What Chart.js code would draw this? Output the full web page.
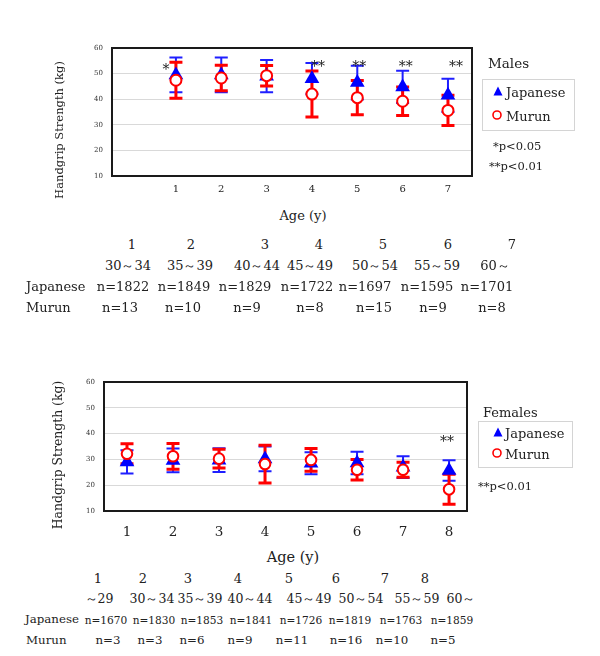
<!DOCTYPE html>
<html><head><meta charset="utf-8">
<script src="https://cdn.jsdelivr.net/npm/chart.js@4.4.1/dist/chart.umd.min.js"></script>
<style>
body{margin:0;width:600px;height:656px;position:relative;background:#fff;overflow:hidden;font-family:'DejaVu Serif',serif;color:#222}
canvas{position:absolute;left:0}
.t{position:absolute;white-space:nowrap;line-height:1;transform:translate(-50%,-50%)}
.l{position:absolute;white-space:nowrap;line-height:1;transform:translate(0,-50%)}
.r{position:absolute;white-space:nowrap;line-height:1;transform:translate(-50%,-50%) rotate(-90deg)}
.box{position:absolute;border:1px solid #d4d4d4}
</style></head><body>
<canvas id="male" width="600" height="205" style="top:0"></canvas>
<canvas id="female" width="600" height="205" style="top:340px"></canvas>
<script>
// ---------- data: males ----------
const maleGroups = ['1','2','3','4','5','6','7'];
const maleAgeRanges = ['30～34','35～39','40～44','45～49','50～54','55～59','60～'];
const maleNJapanese = [1822,1849,1829,1722,1697,1595,1701];
const maleNMurun = [13,10,9,8,15,9,8];
const maleJapaneseMean = [49.5,49.5,49.0,48.0,46.5,44.8,41.5];
const maleJapaneseSD   = [6.8,6.8,6.3,6.1,6.6,6.3,6.5];
const maleMurunMean = [47.4,48.3,49.2,42.0,40.6,39.2,35.6];
const maleMurunSD   = [7.0,5.0,4.0,9.0,6.7,5.6,5.9];
const maleSig = ['*','','','**','**','**','**'];
// ---------- data: females ----------
const femaleGroups = ['1','2','3','4','5','6','7','8'];
const femaleAgeRanges = ['～29','30～34','35～39','40～44','45～49','50～54','55～59','60～'];
const femaleNJapanese = [1670,1830,1853,1841,1726,1819,1763,1859];
const femaleNMurun = [3,3,6,9,11,16,10,5];
const femaleJapaneseMean = [29.0,29.6,29.7,30.2,28.5,28.6,27.0,25.7];
const femaleJapaneseSD   = [4.5,4.6,4.6,4.8,4.3,4.4,4.2,4.0];
const femaleMurunMean = [32.2,31.2,30.3,28.2,29.8,26.0,26.0,18.4];
const femaleMurunSD   = [3.9,5.0,3.6,7.3,4.4,4.0,2.9,5.8];
const femaleSig = ['','','','','','','','**'];
const yTicks = [10,20,30,40,50,60];

// ---------- layout (positions only) ----------
const maleTableX = {
  grp:[132,191,265,319,383,448,512],
  rng:[128,190,257,310,375,437,495],
  nj:[123,184,245,307,365,427,487],
  nm:[120,183,247,310,374,433,492]
};
const maleTableY = [244,265,286,307];
const femaleTableX = {
  grp:[98,143,188,238,289,336,385,425],
  rng:[99,152,200,250,309,361,417,461],
  nj:[106,154,202,251,301,350,401,452],
  nm:[108,150,192,240,292,346,392,443]
};
const femaleTableY = [578,599,620,641];
const maleSigDx = [-10,0,0,6,2,3,8];
const maleSigDy = [3,0,0,0,0,0,0];
const femaleSigDx = [0,0,0,0,0,0,0,-2];
const femaleSigDy = [0,0,0,0,0,0,0,0];

function txt(s, x, y, size, cls, color){
  const d = document.createElement('div');
  d.className = cls; d.textContent = s;
  d.style.left = x+'px'; d.style.top = y+'px'; d.style.fontSize = size+'px';
  if (color) d.style.color = color;
  document.body.appendChild(d); return d;
}
function box(x,y,w,h){
  const d=document.createElement('div'); d.className='box';
  d.style.left=x+'px'; d.style.top=y+'px'; d.style.width=w+'px'; d.style.height=h+'px';
  document.body.appendChild(d);
}
function marker(kind, cx, cy){
  const ns='http://www.w3.org/2000/svg';
  const s=document.createElementNS(ns,'svg');
  s.setAttribute('width','12'); s.setAttribute('height','12');
  s.style.position='absolute'; s.style.left=(cx-6)+'px'; s.style.top=(cy-6)+'px';
  if(kind==='tri'){
    const p=document.createElementNS(ns,'polygon');
    p.setAttribute('points','6,1.5 10.5,10.5 1.5,10.5'); p.setAttribute('fill','#0000ff');
    s.appendChild(p);
  } else {
    const c=document.createElementNS(ns,'circle');
    c.setAttribute('cx','6'); c.setAttribute('cy','6'); c.setAttribute('r','4');
    c.setAttribute('fill','#fff'); c.setAttribute('stroke','#ff0000'); c.setAttribute('stroke-width','1.6');
    s.appendChild(c);
  }
  document.body.appendChild(s);
}

// ---------- plugins ----------
const errorBars = {
  id:'errorBars',
  beforeDatasetsDraw(chart){
    const ctx=chart.ctx, ys=chart.scales.y;
    const order=[1,0];
    order.forEach(di=>{
      const ds=chart.data.datasets[di];
      const meta=chart.getDatasetMeta(di);
      ctx.save();
      ctx.strokeStyle=ds.errColor; ctx.lineWidth=ds.errWidth; ctx.lineCap='butt';
      meta.data.forEach((pt,i)=>{
        const m=ds.data[i].y, sd=ds.sd[i];
        const yt=ys.getPixelForValue(m+sd), yb=ys.getPixelForValue(m-sd);
        const x=pt.x, h=ds.capHalf;
        ctx.beginPath();
        ctx.moveTo(x,yt); ctx.lineTo(x,yb);
        ctx.moveTo(x-h,yt); ctx.lineTo(x+h,yt);
        ctx.moveTo(x-h,yb); ctx.lineTo(x+h,yb);
        ctx.stroke();
      });
      ctx.restore();
    });
  }
};
const frame = {
  id:'frame',
  afterDraw(chart){
    const {left,top,right,bottom}=chart.chartArea, ctx=chart.ctx;
    ctx.save(); ctx.strokeStyle='#1a1a1a'; ctx.lineWidth=2;
    ctx.strokeRect(left,top,right-left,bottom-top); ctx.restore();
  }
};
const sigMarks = {
  id:'sigMarks',
  afterDatasetsDraw(chart, args, opts){
    const ctx=chart.ctx, xs=chart.scales.x, ys=chart.scales.y;
    ctx.save(); ctx.fillStyle='#222'; ctx.font=opts.size+"px 'DejaVu Serif'";
    ctx.textAlign='center'; ctx.textBaseline='middle';
    opts.labels.forEach((s,i)=>{
      if(!s) return;
      ctx.fillText(s, xs.getPixelForValue(i+1)+opts.dx[i], ys.getPixelForValue(opts.yval)+opts.dy[i]);
    });
    ctx.restore();
  }
};

function makeChart(id, groups, jm, jsd, mm, msd, cfg){
  const pts=(arr)=>arr.map((v,i)=>({x:i+1,y:v}));
  return new Chart(document.getElementById(id),{
    type:'scatter',
    data:{datasets:[
      {label:'Murun', data:pts(mm), sd:msd, order:0, pointStyle:'circle', pointRadius:cfg.cr,
       pointBackgroundColor:'#ffffff', pointBorderColor:'#ff0000', pointBorderWidth:2,
       errColor:'#ff0000', errWidth:3, capHalf:6.5},
      {label:'Japanese', data:pts(jm), sd:jsd, order:1, pointStyle:'triangle', pointRadius:cfg.tr,
       pointBackgroundColor:'#0000ff', pointBorderColor:'#0000ff', pointBorderWidth:0,
       errColor:'#1f1fff', errWidth:2, capHalf:6.5}
    ]},
    options:{
      responsive:false, animation:false, devicePixelRatio:1,
      layout:{padding:cfg.pad},
      plugins:{legend:{display:false}, tooltip:{enabled:false},
        sigMarks:{labels:cfg.sig, dx:cfg.sigDx, dy:cfg.sigDy, yval:cfg.sigY, size:14}},
      scales:{
        x:{type:'linear', min:cfg.xmin, max:cfg.xmax,
          afterBuildTicks:(s)=>{s.ticks=groups.map((g,i)=>({value:i+1}));},
          afterFit:(s)=>{s.height=cfg.xh;},
          grid:{display:false, drawTicks:false}, border:{display:false},
          ticks:{padding:cfg.xpad, color:'#222', font:{family:'DejaVu Serif', size:cfg.xfs},
            callback:(v)=>groups[v-1]||''}},
        y:{type:'linear', min:10, max:60,
          afterBuildTicks:(s)=>{s.ticks=yTicks.map(v=>({value:v}));},
          afterFit:(s)=>{s.width=cfg.yw;},
          grid:{color:'#d9d9d9', lineWidth:1, drawTicks:false}, border:{display:false},
          ticks:{padding:cfg.ypad, color:'#333', font:{family:'DejaVu Serif', size:7}}}
      }
    },
    plugins:[errorBars, frame, sigMarks]
  });
}

makeChart('male', maleGroups, maleJapaneseMean, maleJapaneseSD, maleMurunMean, maleMurunSD, {
  pad:{left:60, right:128, top:48, bottom:0}, yw:52, xh:29, xmin:-0.41, xmax:7.53,
  xpad:7, xfs:10, ypad:9, cr:5.5, tr:8.5, sig:maleSig, sigDx:maleSigDx, sigDy:maleSigDy, sigY:52.6
});
makeChart('female', femaleGroups, femaleJapaneseMean, femaleJapaneseSD, femaleMurunMean, femaleMurunSD, {
  pad:{left:50, right:133, top:42, bottom:0}, yw:54, xh:34, xmin:0.5, xmax:8.39,
  xpad:13, xfs:13.5, ypad:9, cr:5.3, tr:8.5, sig:femaleSig, sigDx:femaleSigDx, sigDy:femaleSigDy, sigY:36.6
});

// ---------- texts ----------
txt('Handgrip Strength (kg)', 60, 130, 11.5, 'r');
txt('Age (y)', 303, 215, 13, 't');
txt('Handgrip Strength (kg)', 58, 455, 12.4, 'r');
txt('Age (y)', 293, 557, 14.5, 't');

// legends
txt('Males', 488, 64, 13.5, 'l');
box(482, 79, 91, 50);
marker('tri', 498, 91); txt('Japanese', 506, 92, 13, 'l');
marker('circ', 497, 115); txt('Murun', 506, 116, 13, 'l');
txt('*p<0.05', 493, 147, 11.5, 'l');
txt('**p<0.01', 489, 167, 11.5, 'l');

txt('Females', 483, 412, 13, 'l');
box(478, 421, 93, 45);
marker('tri', 498, 432); txt('Japanese', 505, 433, 13, 'l');
marker('circ', 497, 453); txt('Murun', 505, 454, 13, 'l');
txt('**p<0.01', 478, 487, 11.5, 'l');

// tables
maleGroups.forEach((g,i)=>txt(g, maleTableX.grp[i], maleTableY[0], 13, 't'));
maleAgeRanges.forEach((g,i)=>txt(g, maleTableX.rng[i], maleTableY[1], 13, 't'));
txt('Japanese', 26, maleTableY[2], 13, 'l');
maleNJapanese.forEach((n,i)=>txt('n='+n, maleTableX.nj[i], maleTableY[2], 13, 't'));
txt('Murun', 26, maleTableY[3], 13, 'l');
maleNMurun.forEach((n,i)=>txt('n='+n, maleTableX.nm[i], maleTableY[3], 13, 't'));

femaleGroups.forEach((g,i)=>txt(g, femaleTableX.grp[i], femaleTableY[0], 13, 't'));
femaleAgeRanges.forEach((g,i)=>txt(g, femaleTableX.rng[i], femaleTableY[1], 12.5, 't'));
txt('Japanese', 25, femaleTableY[2], 11.8, 'l');
femaleNJapanese.forEach((n,i)=>txt('n='+n, femaleTableX.nj[i], femaleTableY[2], 10.6, 't'));
txt('Murun', 26, femaleTableY[3], 11.8, 'l');
femaleNMurun.forEach((n,i)=>txt('n='+n, femaleTableX.nm[i], femaleTableY[3], 11.8, 't'));
</script>
</body></html>
